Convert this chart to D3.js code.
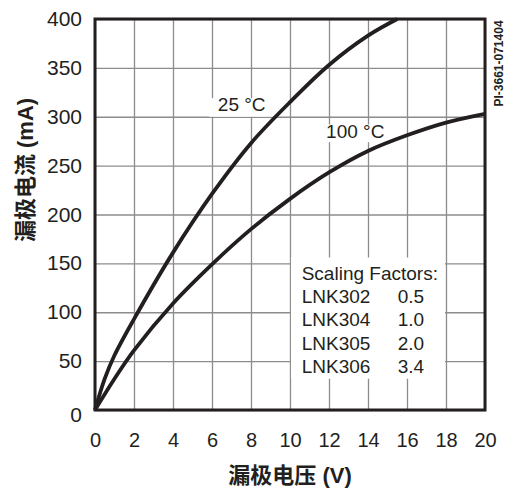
<!DOCTYPE html>
<html>
<head>
<meta charset="utf-8">
<script src="https://cdn.jsdelivr.net/npm/d3@7"></script>
<style>
	body { margin: 0; background: #fff; }
	svg { display: block; font-family: "Liberation Sans", Arial, "Noto Sans CJK SC", sans-serif; }
</style>
</head>
<body>
<div id="chart"></div>
<script>
// drain voltage (V) and drain current (mA)
var voltage25 = [0, 0.5, 1, 2, 4, 6, 8, 10, 12, 14, 15.5];
var current25 = [0, 32, 56, 93, 161, 221, 273, 315, 353, 383, 400];
var voltage100 = [0, 1, 2, 4, 6, 8, 10, 12, 14, 16, 18, 20];
var current100 = [0, 32, 61, 109, 149, 185, 216, 243, 265, 281, 294, 303];

var xTicks = [0, 2, 4, 6, 8, 10, 12, 14, 16, 18, 20];
var yTicks = [0, 50, 100, 150, 200, 250, 300, 350, 400];

var curveLabels = ["25 °C", "100 °C"];
var scalingTitle = "Scaling Factors:";
var parts = ["LNK302", "LNK304", "LNK305", "LNK306"];
var factors = ["0.5", "1.0", "2.0", "3.4"];

(function() {
	var W = 507, H = 490;
	var margin = { top: 19, right: 22, bottom: 80, left: 95 },
		width = W - margin.left - margin.right,
		height = H - margin.top - margin.bottom;

	var ink = "#231f20";

	var x = d3.scaleLinear().domain([0, 20]).range([0, width]);
	var y = d3.scaleLinear().domain([0, 400]).range([height, 0]);

	var svg = d3.select("#chart").append("svg")
		.attr("width", W)
		.attr("height", H);

	var g = svg.append("g")
		.attr("transform", `translate(${margin.left},${margin.top})`);

	// grid
	g.append("g")
		.attr("class", "gridX")
		.call(d3.axisBottom(x).tickValues(xTicks).tickSize(height).tickFormat(""))
		.call(s => s.select(".domain").remove());
	g.append("g")
		.attr("class", "gridY")
		.call(d3.axisLeft(y).tickValues(yTicks).tickSize(-width).tickFormat(""))
		.call(s => s.select(".domain").remove());
	g.selectAll(".gridX line, .gridY line")
		.attr("stroke", "#8c8c8c")
		.attr("stroke-width", 1.3);

	// white boxes behind the labels
	var masks = [
		{ x0: 5.85, x1: 9.15, y0: 319, y1: 300 },
		{ x0: 11.7, x1: 15.1, y0: 292, y1: 274 },
		{ x0: 10.05, x1: 17.95, y0: 156, y1: 32 }
	];
	g.selectAll(".mask")
		.data(masks)
		.enter()
		.append("rect")
		.attr("class", "mask")
		.attr("x", d => x(d.x0))
		.attr("width", d => x(d.x1) - x(d.x0))
		.attr("y", d => y(d.y0))
		.attr("height", d => y(d.y1) - y(d.y0))
		.attr("fill", "#fff");

	// frame
	g.append("rect")
		.attr("width", width)
		.attr("height", height)
		.attr("fill", "none")
		.attr("stroke", ink)
		.attr("stroke-width", 3);

	// curves
	var line = d3.line()
		.x(d => x(d[0]))
		.y(d => y(d[1]))
		.curve(d3.curveCatmullRom.alpha(0.5));

	var series = [
		d3.zip(voltage25, current25),
		d3.zip(voltage100, current100)
	];
	g.selectAll(".curve")
		.data(series)
		.enter()
		.append("path")
		.attr("class", "curve")
		.attr("d", line)
		.attr("fill", "none")
		.attr("stroke", ink)
		.attr("stroke-width", 3.8)
		.attr("stroke-linejoin", "round");

	// curve labels
	var labelPos = [[6.3, 306], [11.85, 278]];
	g.selectAll(".curveLabel")
		.data(curveLabels)
		.enter()
		.append("text")
		.attr("class", "curveLabel")
		.attr("x", (d, i) => x(labelPos[i][0]))
		.attr("y", (d, i) => y(labelPos[i][1]))
		.attr("font-size", 19)
		.attr("fill", ink)
		.text(d => d);

	// scaling factors table
	var table = g.append("g")
		.attr("transform", `translate(${x(10.6)},${y(133.5)})`)
		.attr("font-size", 19)
		.attr("fill", ink);
	table.append("text").text(scalingTitle);
	parts.forEach((p, i) => {
		table.append("text")
			.attr("y", 23.4 * (i + 1))
			.text(p);
		table.append("text")
			.attr("x", 96)
			.attr("y", 23.4 * (i + 1))
			.text(factors[i]);
	});

	// axes labels
	var yAxis = g.append("g")
		.call(d3.axisLeft(y).tickValues(yTicks).tickSize(0).tickPadding(13))
		.call(s => s.select(".domain").remove());
	yAxis.selectAll("text")
		.attr("font-size", 21)
		.attr("font-family", null)
		.attr("fill", ink)
		.attr("dy", d => d === 0 ? "0.55em" : "0.31em");

	var xAxis = g.append("g")
		.attr("transform", `translate(0,${height})`)
		.call(d3.axisBottom(x).tickValues(xTicks).tickSize(0).tickPadding(23))
		.call(s => s.select(".domain").remove());
	xAxis.selectAll("text")
		.attr("font-size", 20)
		.attr("font-family", null)
		.attr("fill", ink);

	svg.append("text")
		.attr("x", margin.left + width / 2)
		.attr("y", 483)
		.attr("text-anchor", "middle")
		.attr("font-size", 22)
		.attr("font-weight", "bold")
		.attr("fill", ink)
		.text("漏极电压 (V)");

	svg.append("text")
		.attr("transform", "translate(33,170) rotate(-90)")
		.attr("text-anchor", "middle")
		.attr("font-size", 22)
		.attr("font-weight", "bold")
		.attr("fill", ink)
		.text("漏极电流 (mA)");

	svg.append("text")
		.attr("transform", "translate(503,106.5) rotate(-90)")
		.attr("font-size", 12)
		.attr("font-weight", "bold")
		.attr("fill", ink)
		.text("PI-3661-071404");
})();
</script>
</body>
</html>
